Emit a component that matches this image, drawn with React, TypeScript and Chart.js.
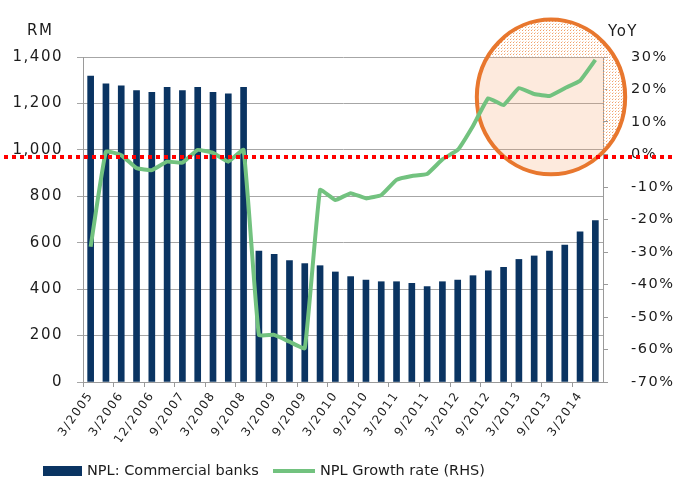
import React, { useEffect, useRef } from 'react';
import { Chart, registerables } from 'chart.js';

Chart.register(...registerables);

// ---- Data ----
const categories: string[] = [
  '3/2005', '9/2005', '3/2006', '9/2006', '12/2006', '3/2007', '9/2007', '12/2007',
  '3/2008', '6/2008', '9/2008', '12/2008', '3/2009', '6/2009', '9/2009', '12/2009',
  '3/2010', '6/2010', '9/2010', '12/2010', '3/2011', '6/2011', '9/2011', '12/2011',
  '3/2012', '6/2012', '9/2012', '12/2012', '3/2013', '6/2013', '9/2013', '12/2013',
  '3/2014', '6/2014',
];

const nplCommercialBanks: number[] = [
  1318, 1284, 1276, 1255, 1248, 1269, 1255, 1269, 1248, 1241, 1269,
  564, 550, 523, 510, 501, 474, 454, 439, 432, 432, 425, 411, 432,
  439, 458, 479, 494, 528, 543, 564, 590, 647, 695,
];

const nplGrowthRate: number[] = [
  -28.4, 0.9, -0.2, -4.2, -4.8, -2.2, -2.5, 1.4, 0.5, -2.2, 1.4,
  -55.5, -55.5, -57.6, -59.6, -10.9, -14, -11.9, -13.5, -12.5, -7.8, -6.6,
  -6, -1.5, 1.4, 8.8, 17.3, 15.2, 20.4, 18.6, 18, 20.4, 22.7, 29.1,
];

const seriesLabels: string[] = ['NPL: Commercial banks', 'NPL Growth rate (RHS)'];
const leftAxisTitle = 'RM';
const rightAxisTitle = 'YoY';
const leftRange: number[] = [0, 1400, 200];
const rightRange: number[] = [-70, 30, 10];
const referenceLineValue = -0.8; // on the right (%) axis
// highlight ellipse: centre (category index, %), radii (categories, %)
const highlightCenter: number[] = [30.1, 17.7];
const highlightRadius: number[] = [4.85, 23.8];

const NAVY = '#0A3462';
const GREEN = '#72C27F';
const TEXT = '#1c1c1c';
const FONT = "'DejaVu Sans', sans-serif";

const overlayPlugin = {
  id: 'overlay',
  beforeDraw(chart: any) {
    const ctx = chart.ctx;
    ctx.save();
    ctx.fillStyle = '#ffffff';
    ctx.fillRect(0, 0, chart.width, chart.height);
    ctx.restore();
    (ctx as any).letterSpacing = '1.5px';
  },
  beforeDatasetsDraw(chart: any) {
    const ctx = chart.ctx;
    const xs = chart.scales.x;
    const ys = chart.scales.y1;
    const ca = chart.chartArea;
    const cx = xs.getPixelForValue(highlightCenter[0]);
    const cy = ys.getPixelForValue(highlightCenter[1]);
    const rx = Math.abs(xs.getPixelForValue(highlightCenter[0] + highlightRadius[0]) - cx);
    const ry = Math.abs(ys.getPixelForValue(highlightCenter[1] + highlightRadius[1]) - cy);

    const pc = document.createElement('canvas');
    pc.width = 3;
    pc.height = 3;
    const pctx = pc.getContext('2d')!;
    pctx.fillStyle = '#F0A06A';
    pctx.fillRect(0, 0, 1, 1);
    pctx.fillStyle = 'rgba(250,215,190,1)';
    pctx.fillRect(1, 2, 1, 1);
    const pattern = ctx.createPattern(pc, 'repeat');

    ctx.save();
    ctx.beginPath();
    ctx.ellipse(cx, cy, rx, ry, 0, 0, Math.PI * 2);
    ctx.clip();
    // dotted outside plot area
    ctx.beginPath();
    ctx.ellipse(cx, cy, rx, ry, 0, 0, Math.PI * 2);
    ctx.rect(ca.left, ca.top, ca.right - ca.left, ca.bottom - ca.top);
    ctx.fillStyle = pattern;
    ctx.fill('evenodd');
    // light peach inside plot area
    ctx.beginPath();
    ctx.rect(ca.left, ca.top, ca.right - ca.left, ca.bottom - ca.top);
    ctx.fillStyle = 'rgba(245,160,100,0.22)';
    ctx.fill();
    ctx.restore();

    ctx.save();
    ctx.beginPath();
    ctx.ellipse(cx, cy, rx, ry, 0, 0, Math.PI * 2);
    ctx.strokeStyle = '#E8772E';
    ctx.lineWidth = 4;
    ctx.stroke();
    ctx.restore();
  },
  afterDatasetsDraw(chart: any) {
    const ctx = chart.ctx;
    const y = chart.scales.y1.getPixelForValue(referenceLineValue);
    ctx.save();
    ctx.strokeStyle = '#FF0000';
    ctx.lineWidth = 4;
    ctx.setLineDash([4, 4]);
    ctx.beginPath();
    ctx.moveTo(4, y);
    ctx.lineTo(chart.width, y);
    ctx.stroke();
    ctx.restore();
  },
  afterDraw(chart: any) {
    const ctx = chart.ctx;
    ctx.save();
    (ctx as any).letterSpacing = '1.5px';
    ctx.fillStyle = TEXT;
    ctx.font = `15px ${FONT}`;
    ctx.textBaseline = 'middle';
    ctx.textAlign = 'left';
    ctx.fillText(leftAxisTitle, 27, 31);
    ctx.fillText(rightAxisTitle, 608, 32);

    // legend
    (ctx as any).letterSpacing = '0px';
    ctx.font = `14.5px ${FONT}`;
    const ly = 471;
    ctx.fillStyle = NAVY;
    ctx.fillRect(43, ly - 5, 39, 10);
    ctx.fillStyle = TEXT;
    ctx.fillText(seriesLabels[0], 87, ly);
    ctx.strokeStyle = GREEN;
    ctx.lineWidth = 4;
    ctx.beginPath();
    ctx.moveTo(273, ly);
    ctx.lineTo(315, ly);
    ctx.stroke();
    ctx.fillText(seriesLabels[1], 320, ly);
    ctx.restore();
  },
};

export default function App() {
  const canvasRef = useRef<HTMLCanvasElement | null>(null);

  useEffect(() => {
    document.body.style.margin = '0';
    const canvas = canvasRef.current;
    if (!canvas) return;
    Chart.defaults.font.family = FONT;
    Chart.defaults.color = TEXT;

    const chart = new Chart(canvas, {
      type: 'bar',
      data: {
        labels: categories,
        datasets: [
          {
            type: 'bar',
            label: seriesLabels[0],
            data: nplCommercialBanks,
            backgroundColor: NAVY,
            barThickness: 6,
            yAxisID: 'y',
            order: 2,
          },
          {
            type: 'line',
            label: seriesLabels[1],
            data: nplGrowthRate,
            borderColor: GREEN,
            borderWidth: 4,
            pointRadius: 0,
            tension: 0.1,
            yAxisID: 'y1',
            order: 1,
          } as any,
        ],
      },
      options: {
        responsive: false,
        animation: false,
        devicePixelRatio: 1,
        layout: { padding: { top: 57, bottom: 40, left: 0, right: 0 } },
        plugins: {
          legend: { display: false },
          tooltip: { enabled: false },
        },
        scales: {
          x: {
            type: 'category',
            offset: true,
            grid: {
              display: true,
              drawOnChartArea: false,
              offset: true,
              tickLength: 5,
              color: (c: any) => (c.index % 2 === 0 ? '#9a9a9a' : 'rgba(0,0,0,0)'),
            },
            border: { color: '#9a9a9a', width: 1 },
            ticks: {
              autoSkip: false,
              minRotation: 55,
              maxRotation: 55,
              padding: 2,
              color: TEXT,
              font: { size: 12, family: FONT },
              callback: (_v: any, i: number) => (i % 2 === 0 ? categories[i] : ''),
            },
            afterFit: (s: any) => {
              s.height = 60;
            },
          },
          y: {
            position: 'left',
            min: leftRange[0],
            max: leftRange[1],
            ticks: {
              stepSize: leftRange[2],
              padding: 14,
              color: TEXT,
              font: { size: 15, family: FONT },
              callback: (v: any) => Number(v).toLocaleString('en-US'),
            },
            grid: { color: '#a6a6a6', tickLength: 6, lineWidth: 1 },
            border: { color: '#9a9a9a' },
            afterFit: (s: any) => {
              s.width = 83;
            },
          },
          y1: {
            position: 'right',
            min: rightRange[0],
            max: rightRange[1],
            ticks: {
              stepSize: rightRange[2],
              padding: 23,
              color: TEXT,
              font: { size: 14.5, family: FONT },
              callback: (v: any) => `${v}%`,
            },
            grid: { drawOnChartArea: false, color: '#9a9a9a', tickLength: 5 },
            border: { color: '#9a9a9a' },
            afterFit: (s: any) => {
              s.width = 70;
            },
          },
        },
      } as any,
      plugins: [overlayPlugin],
    });

    return () => {
      chart.destroy();
    };
  }, []);

  return (
    <div style={{ width: 673, height: 482 }}>
      <canvas ref={canvasRef} width={673} height={482} style={{ display: 'block' }} />
    </div>
  );
}
